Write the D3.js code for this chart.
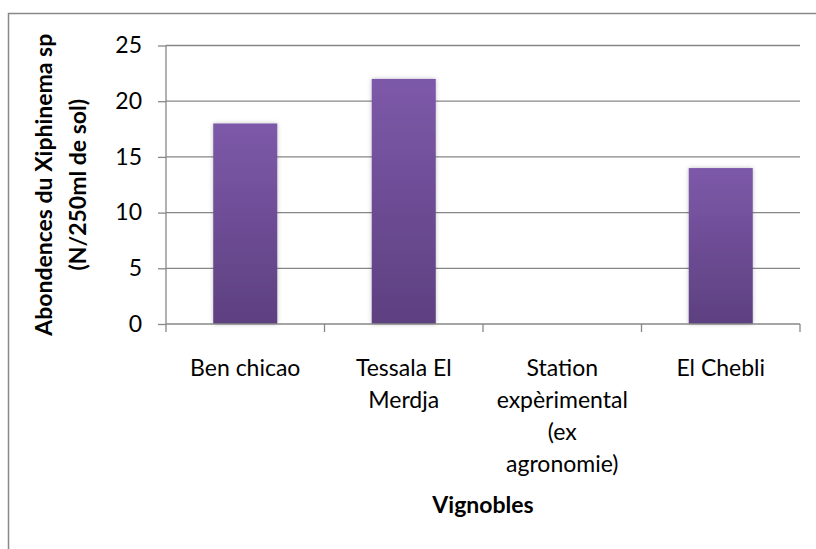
<!DOCTYPE html>
<meta charset="utf-8">
<head>
<style>
  body { margin: 0; background: #fff; }
  text { font-family: Lato, "Open Sans", sans-serif; fill: #000; }
</style>
</head>
<body>
<script src="https://cdn.jsdelivr.net/npm/d3@7"></script>
<svg id="chart"></svg>
<script>

var vignobles = [["Ben chicao"], ["Tessala El", "Merdja"], ["Station", "expèrimental", "(ex", "agronomie)"], ["El Chebli"]];
var categories = ["Ben chicao", "Tessala El Merdja", "Station expèrimental (ex agronomie)", "El Chebli"];
var abondances = [18, 22, 0, 14];
var yTicks = [0, 5, 10, 15, 20, 25];

var width = 816,
    height = 549;

var svg = d3.select("#chart")
    .attr("width", width)
    .attr("height", height);

// cadre du graphique
svg.append("rect")
    .attr("x", 8.5).attr("y", 13.5)
    .attr("width", 900).attr("height", 600)
    .attr("fill", "#fff")
    .attr("stroke", "#888").attr("stroke-width", 1.5);

var plotLeft = 166, plotRight = 800, plotTop = 45.5, plotBottom = 324;
var fs = 23;

var x = d3.scaleBand()
    .domain(categories)
    .range([plotLeft, plotRight])
    .padding(0);

var y = d3.scaleLinear()
    .domain([0, 25])
    .range([plotBottom, plotTop]);

var defs = svg.append("defs");
var grad = defs.append("linearGradient")
    .attr("id", "barGrad")
    .attr("x1", 0).attr("y1", 0).attr("x2", 0).attr("y2", 1);
grad.append("stop").attr("offset", "0%").attr("stop-color", "#7d59a9");
grad.append("stop").attr("offset", "100%").attr("stop-color", "#5d4080");

var shadow = defs.append("filter").attr("id", "shadow")
    .attr("x", "-20%").attr("y", "-20%").attr("width", "140%").attr("height", "140%");
shadow.append("feDropShadow")
    .attr("dx", 0).attr("dy", 0).attr("stdDeviation", 2)
    .attr("flood-color", "#000").attr("flood-opacity", 0.25);

// grille
svg.append("g")
    .selectAll("line")
    .data(yTicks.filter(function(d){ return d > 0; }))
    .enter().append("line")
    .attr("x1", plotLeft).attr("x2", plotRight)
    .attr("y1", function(d){ return y(d); })
    .attr("y2", function(d){ return y(d); })
    .attr("stroke", "#878787").attr("stroke-width", 1.3);

// barres
var barW = x.bandwidth() * 0.404;
var bars = categories.map(function(c, i){ return {cat: c, value: abondances[i]}; })
    .filter(function(d){ return d.value > 0; });
svg.append("g")
    .selectAll("rect")
    .data(bars)
    .enter().append("rect")
    .attr("x", function(d){ return x(d.cat) + x.bandwidth() / 2 - barW / 2; })
    .attr("y", function(d){ return y(d.value); })
    .attr("width", barW)
    .attr("height", function(d){ return y(0) - y(d.value); })
    .attr("fill", "url(#barGrad)")
    .attr("filter", "url(#shadow)");

// axe y
var yAxis = svg.append("g")
    .attr("transform", "translate(" + plotLeft + ",0)")
    .call(d3.axisLeft(y).tickValues(yTicks).tickSize(8).tickPadding(16).tickFormat(d3.format("d")));
yAxis.select(".domain").attr("stroke", "#878787").attr("stroke-width", 1.3).attr("d", "M0," + plotTop + "V" + plotBottom);
yAxis.selectAll(".tick line").attr("stroke", "#878787").attr("stroke-width", 1.3);
yAxis.selectAll(".tick text").attr("font-size", fs).attr("fill", "#000").attr("font-family", "Lato");

// axe x
var xAxis = svg.append("g")
    .attr("transform", "translate(0," + plotBottom + ")");
xAxis.append("line")
    .attr("x1", plotLeft).attr("x2", plotRight)
    .attr("stroke", "#878787").attr("stroke-width", 1.3);
xAxis.selectAll(".xt")
    .data(d3.range(categories.length + 1))
    .enter().append("line")
    .attr("x1", function(i){ return plotLeft + i * x.step(); })
    .attr("x2", function(i){ return plotLeft + i * x.step(); })
    .attr("y1", 0).attr("y2", 8)
    .attr("stroke", "#878787").attr("stroke-width", 1.3);

var labels = xAxis.selectAll(".lab")
    .data(categories)
    .enter().append("text")
    .attr("text-anchor", "middle")
    .attr("font-size", fs)
    .attr("x", function(d){ return x(d) + x.bandwidth() / 2; })
    .attr("y", 52);
labels.selectAll("tspan")
    .data(function(d, i){ return vignobles[i]; })
    .enter().append("tspan")
    .attr("x", function(){ return d3.select(this.parentNode).attr("x"); })
    .attr("dy", function(d, j){ return j === 0 ? 0 : 32; })
    .text(function(d){ return d; });

// titres
svg.append("text")
    .attr("x", (plotLeft + plotRight) / 2)
    .attr("y", 513)
    .attr("text-anchor", "middle")
    .attr("font-size", fs)
    .attr("font-weight", "bold")
    .text("Vignobles");

var yt = svg.append("text")
    .attr("transform", "translate(52," + ((plotTop + plotBottom) / 2) + ") rotate(-90)")
    .attr("text-anchor", "middle")
    .attr("font-size", fs)
    .attr("font-weight", "bold");
yt.append("tspan").attr("x", 0).attr("dy", 0).text("Abondences du Xiphinema sp");
yt.append("tspan").attr("x", 0).attr("dy", 34).text("(N/250ml de sol)");

</script>
</body>
